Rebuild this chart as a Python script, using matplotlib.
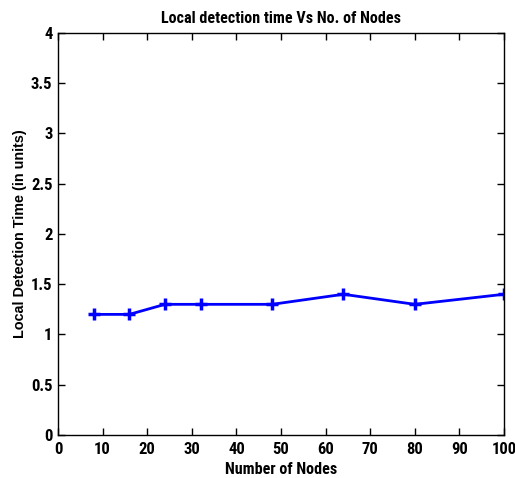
import matplotlib
matplotlib.use("Agg")
import matplotlib.pyplot as plt

nodes = [8, 16, 24, 32, 48, 64, 80, 100]
det_time = [1.2, 1.2, 1.3, 1.3, 1.3, 1.4, 1.3, 1.4]
xticks = [0, 10, 20, 30, 40, 50, 60, 70, 80, 90, 100]
yticks = [0, 0.5, 1, 1.5, 2, 2.5, 3, 3.5, 4]
ytick_labels = ["0", "0.5", "1", "1.5", "2", "2.5", "3", "3.5", "4"]

narrow = ['Roboto Condensed', 'Barlow Condensed', 'Archivo Narrow', 'DejaVu Sans']
wide = ['Liberation Sans', 'DejaVu Sans']
plt.rcParams['font.family'] = narrow
plt.rcParams['font.weight'] = 'bold'

fig = plt.figure(figsize=(5.15, 4.78), dpi=100)
ax = fig.add_axes([0.1126, 0.0900, 0.866, 0.841])
ax.plot(nodes, det_time, color='#0000ff', linewidth=2, marker='+', markersize=8, markeredgewidth=2.5)
ax.set_xlim(0, 100)
ax.set_ylim(0, 4)
ax.set_xticks(xticks)
ax.set_yticks(yticks)
ax.set_yticklabels(ytick_labels)
ax.tick_params(direction='in', top=True, right=True, labelsize=12, length=5, width=1)
ax.tick_params(axis='x', pad=5)
ax.tick_params(axis='y', pad=4)
for lab in ax.get_xticklabels() + ax.get_yticklabels():
    lab.set_fontweight('bold')
for s in ax.spines.values():
    s.set_linewidth(1)
ax.set_title("Local detection time Vs No. of Nodes", fontsize=11.6, fontweight='bold', pad=7)
ax.set_xlabel("Number of Nodes", fontsize=11.6, fontweight='bold', labelpad=4)
ax.set_ylabel("Local Detection Time (in units)", fontsize=10.4, fontweight='bold',
              family=wide, labelpad=3)
fig.savefig("out.png", dpi=100)
